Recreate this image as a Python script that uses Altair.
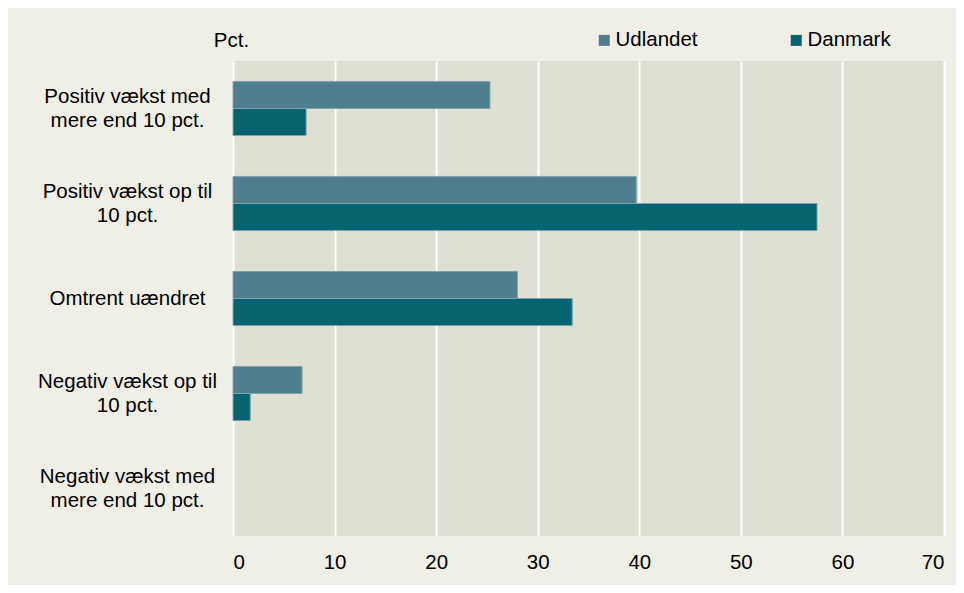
import altair as alt
import pandas as pd

categories = [
    "Positiv vækst med\nmere end 10 pct.",
    "Positiv vækst op til\n10 pct.",
    "Omtrent uændret",
    "Negativ vækst op til\n10 pct.",
    "Negativ vækst med\nmere end 10 pct.",
]
series = ["Udlandet", "Danmark"]
udlandet = [25.3, 39.7, 28.0, 6.8, 0.0]
danmark = [7.2, 57.5, 33.4, 1.7, 0.0]
x_ticks = [0, 10, 20, 30, 40, 50, 60, 70]
colors = ["#4f7f8c", "#06636f"]

rows = []
for c, u, d in zip(categories, udlandet, danmark):
    rows.append({"kategori": c, "serie": "Udlandet", "value": u})
    rows.append({"kategori": c, "serie": "Danmark", "value": d})
df = pd.DataFrame(rows)

FONT = "Liberation Sans"
FS = 20.5

chart = (
    alt.Chart(df)
    .transform_filter("datum.value > 0")
    .mark_bar(stroke="#80a3aa", strokeWidth=1)
    .encode(
        x=alt.X(
            "value:Q",
            scale=alt.Scale(domain=[0, 70], nice=False),
            axis=alt.Axis(
                values=x_ticks,
                title=None,
                grid=True,
                gridColor="#ffffff",
                gridWidth=2,
                gridOpacity=1,
                domain=False,
                ticks=False,
                tickSize=0,
                labelPadding=16,
                labelFont=FONT,
                labelFontSize=FS,
                labelColor="#000000",
            ),
        ),
        y=alt.Y(
            "kategori:N",
            scale=alt.Scale(domain=categories, paddingInner=0.43, paddingOuter=0.215),
            axis=alt.Axis(
                title="Pct.",
                titleAngle=0,
                titleAlign="center",
                titleBaseline="middle",
                titleX=-2,
                titleY=-21,
                titleFont=FONT,
                titleFontSize=FS,
                titleFontWeight="normal",
                titleColor="#000000",
                domain=False,
                ticks=False,
                tickSize=0,
                grid=False,
                labelAlign="center",
                labelBaseline="middle",
                labelPadding=106,
                labelLineHeight=24.6,
                labelOffset={
                    "condition": {"test": "indexof(datum.value, '\\n') >= 0", "value": -12},
                    "value": 0,
                },
                labelExpr="split(datum.label, '\\n')",
                labelFont=FONT,
                labelFontSize=FS,
                labelColor="#000000",
                labelLimit=400,
            ),
        ),
        yOffset=alt.YOffset("serie:N", sort=series, scale=alt.Scale(domain=series)),
        color=alt.Color(
            "serie:N",
            scale=alt.Scale(domain=series, range=colors),
            legend=alt.Legend(
                title=None,
                orient="none",
                direction="horizontal",
                legendX=361,
                legendY=-31,
                symbolType="square",
                symbolSize=121,
                symbolStrokeWidth=0,
                symbolOpacity=1,
                labelOffset=1,
                columnPadding=88,
                labelFont=FONT,
                labelFontSize=FS,
                labelColor="#000000",
                padding=0,
            ),
        ),
    )
    .properties(
        width=711,
        height=475,
        background="#efeee7",
        padding={"left": 225, "top": 53, "right": 12, "bottom": 49},
        autosize=alt.AutoSizeParams(type="none"),
    )
    .configure_view(fill="#e0dfd4", stroke=None)
)

chart.save("out.html", embed_options={"renderer": "svg", "actions": False})
